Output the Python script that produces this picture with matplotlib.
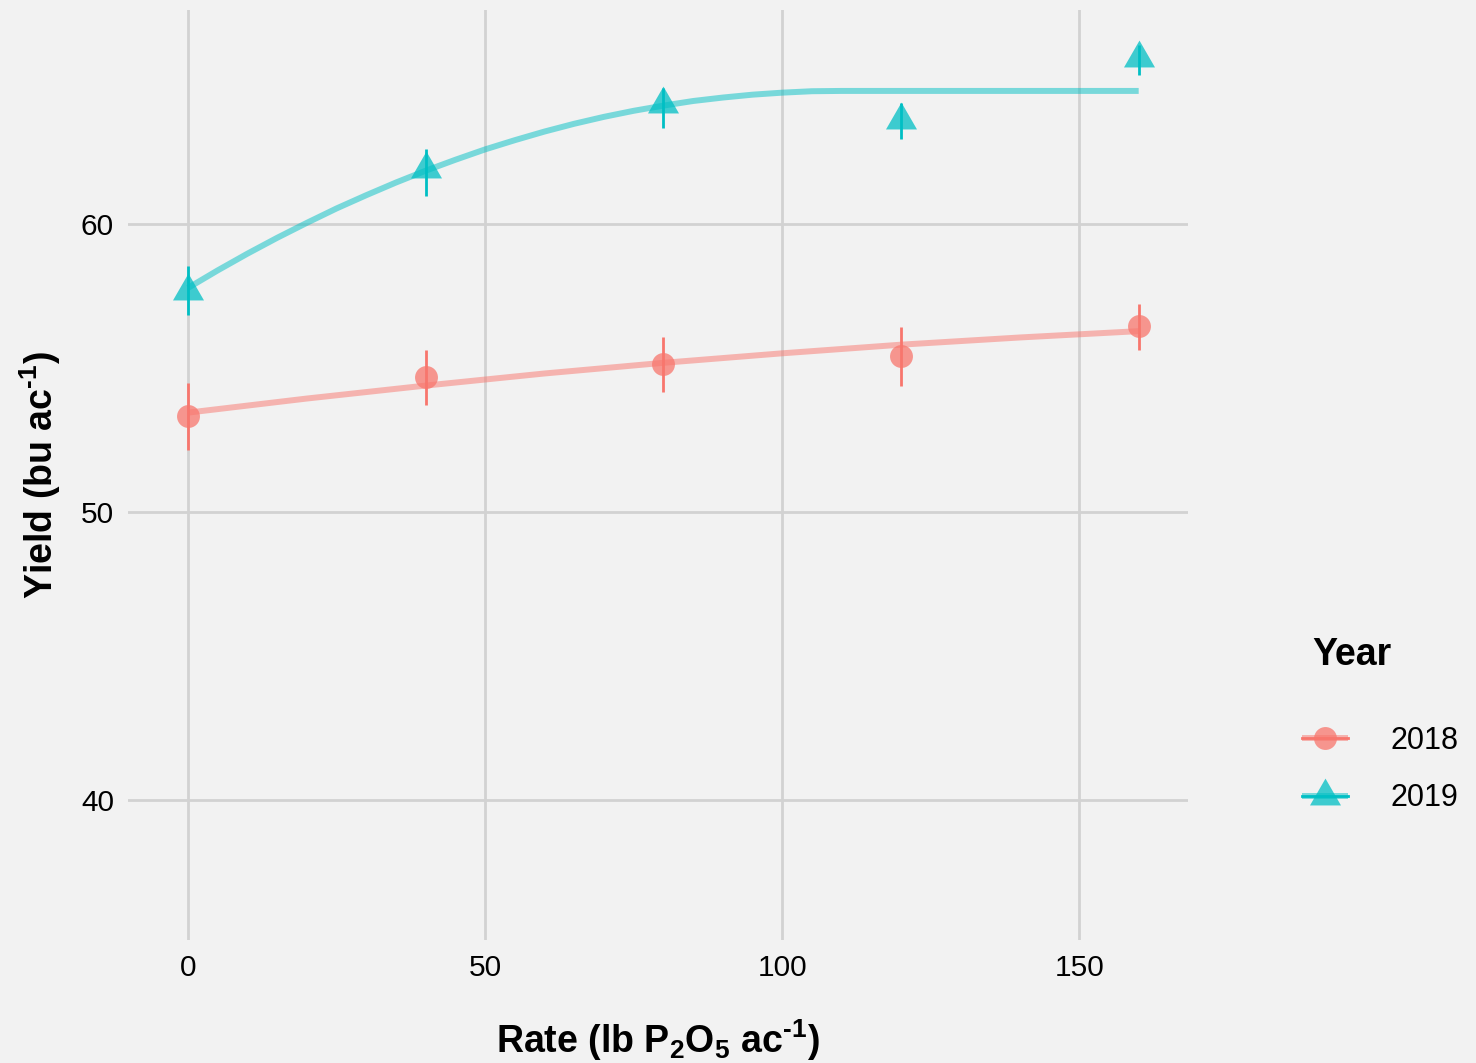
import matplotlib
matplotlib.use("Agg")
import matplotlib.pyplot as plt
from matplotlib.lines import Line2D
from matplotlib.path import Path
from matplotlib.legend_handler import HandlerTuple

plt.rcParams['font.family'] = ['Liberation Sans', 'DejaVu Sans']
plt.rcParams['mathtext.fontset'] = 'custom'
plt.rcParams['mathtext.rm'] = 'Liberation Sans'
plt.rcParams['mathtext.bf'] = 'Liberation Sans:bold'

# ====== DATA =======
rates = [0, 40, 80, 120, 160]

yield_2018 = [53.33, 54.69, 55.14, 55.42, 56.46]
lo_2018 = [52.15, 53.72, 54.17, 54.38, 55.63]
hi_2018 = [54.48, 55.63, 56.08, 56.42, 57.22]

yield_2019 = [57.67, 61.90, 64.17, 63.61, 65.76]
lo_2019 = [56.84, 60.97, 63.33, 62.95, 65.17]
hi_2019 = [58.54, 62.60, 64.72, 64.20, 66.22]

# fitted curves
fit_x_2018 = [0, 20, 40, 60, 80, 100, 120, 140, 160]
fit_y_2018 = [53.45, 53.94, 54.39, 54.81, 55.18, 55.51, 55.81, 56.06, 56.28]

fit_x_2019 = [0, 5, 10, 15, 20, 25, 30, 35, 40, 45, 50, 55, 60, 65, 70, 75,
              80, 85, 90, 95, 100, 105, 110, 120, 130, 140, 150, 160]
fit_y_2019 = [57.78, 58.39, 58.97, 59.52, 60.04, 60.54, 61.00, 61.44, 61.85,
              62.23, 62.59, 62.91, 63.21, 63.48, 63.72, 63.93, 64.11, 64.27,
              64.39, 64.49, 64.56, 64.61, 64.62, 64.62, 64.62, 64.62, 64.62, 64.62]

years = ["2018", "2019"]
colors = ["#F8766D", "#00BFC4"]

x_ticks = [0, 50, 100, 150]
y_ticks = [40, 50, 60]

BG = "#F2F2F2"
GRID = "#D2D2D2"

# equilateral triangle marker (centroid at origin)
tri = Path([(0, 1.1547), (-1, -0.5774), (1, -0.5774), (0, 1.1547)],
           [Path.MOVETO, Path.LINETO, Path.LINETO, Path.CLOSEPOLY])

fig = plt.figure(figsize=(14.76, 10.63), dpi=100, facecolor=BG)
ax = fig.add_axes([128/1476, 123/1063, 1060/1476, 930/1063])
ax.set_facecolor(BG)

series = [
    (fit_x_2018, fit_y_2018, yield_2018, lo_2018, hi_2018, 'o', 16.5),
    (fit_x_2019, fit_y_2019, yield_2019, lo_2019, hi_2019, tri, 25.8),
]

handles = []
for (fx, fy, yv, lo, hi, mk, ms), col in zip(series, colors):
    ax.plot(fx, fy, color=col, lw=4.3, alpha=0.5, solid_capstyle='butt', zorder=3)
    ax.vlines(rates, lo, hi, color=col, lw=2.0, zorder=4)
    ax.plot(rates, yv, ls='none', marker=mk, ms=ms, color=col, alpha=0.75,
            markeredgewidth=0, zorder=5)
    h = (Line2D([], [], color=col, lw=4.3, alpha=0.5, solid_capstyle='butt'),
         Line2D([], [], color=col, lw=2.0),
         Line2D([], [], ls='none', marker=mk, ms=ms, color=col, alpha=0.75,
                markeredgewidth=0))
    handles.append(h)

ax.set_xlim(-10.1, 168.3)
ax.set_ylim(35.14, 67.43)
ax.set_xticks(x_ticks)
ax.set_yticks(y_ticks)
ax.grid(True, color=GRID, lw=2.0)
ax.set_axisbelow(True)
for s in ax.spines.values():
    s.set_visible(False)
ax.tick_params(length=0, labelsize=21.5, colors='black')
ax.tick_params(axis='x', pad=10)
ax.tick_params(axis='y', pad=10)

ax.set_xlabel('Rate (lb P$_\\mathbf{2}$O$_\\mathbf{5}$ ac$^\\mathbf{\u20101}$)',
              fontsize=27, fontweight='bold', va='center')
ax.xaxis.set_label_coords(0.5, -100/930)
ax.set_ylabel('Yield (bu ac$^\\mathbf{\u20101}$)', fontsize=27, fontweight='bold',
              va='center')
ax.yaxis.set_label_coords(-88/1060, 0.5)

fig.text(1312/1476, 1 - 655/1063, 'Year', fontsize=27, fontweight='bold',
         ha='left', va='center')
leg = fig.legend(handles, years, loc='upper left',
                 bbox_to_anchor=(1302/1476, 1 - 726/1063),
                 frameon=False, fontsize=22, handlelength=1.5,
                 handletextpad=1.4, labelspacing=0.9, borderpad=0,
                 borderaxespad=0,
                 handler_map={tuple: HandlerTuple(ndivide=1, pad=0)})

plt.savefig("out.png", dpi=100, facecolor=BG)
